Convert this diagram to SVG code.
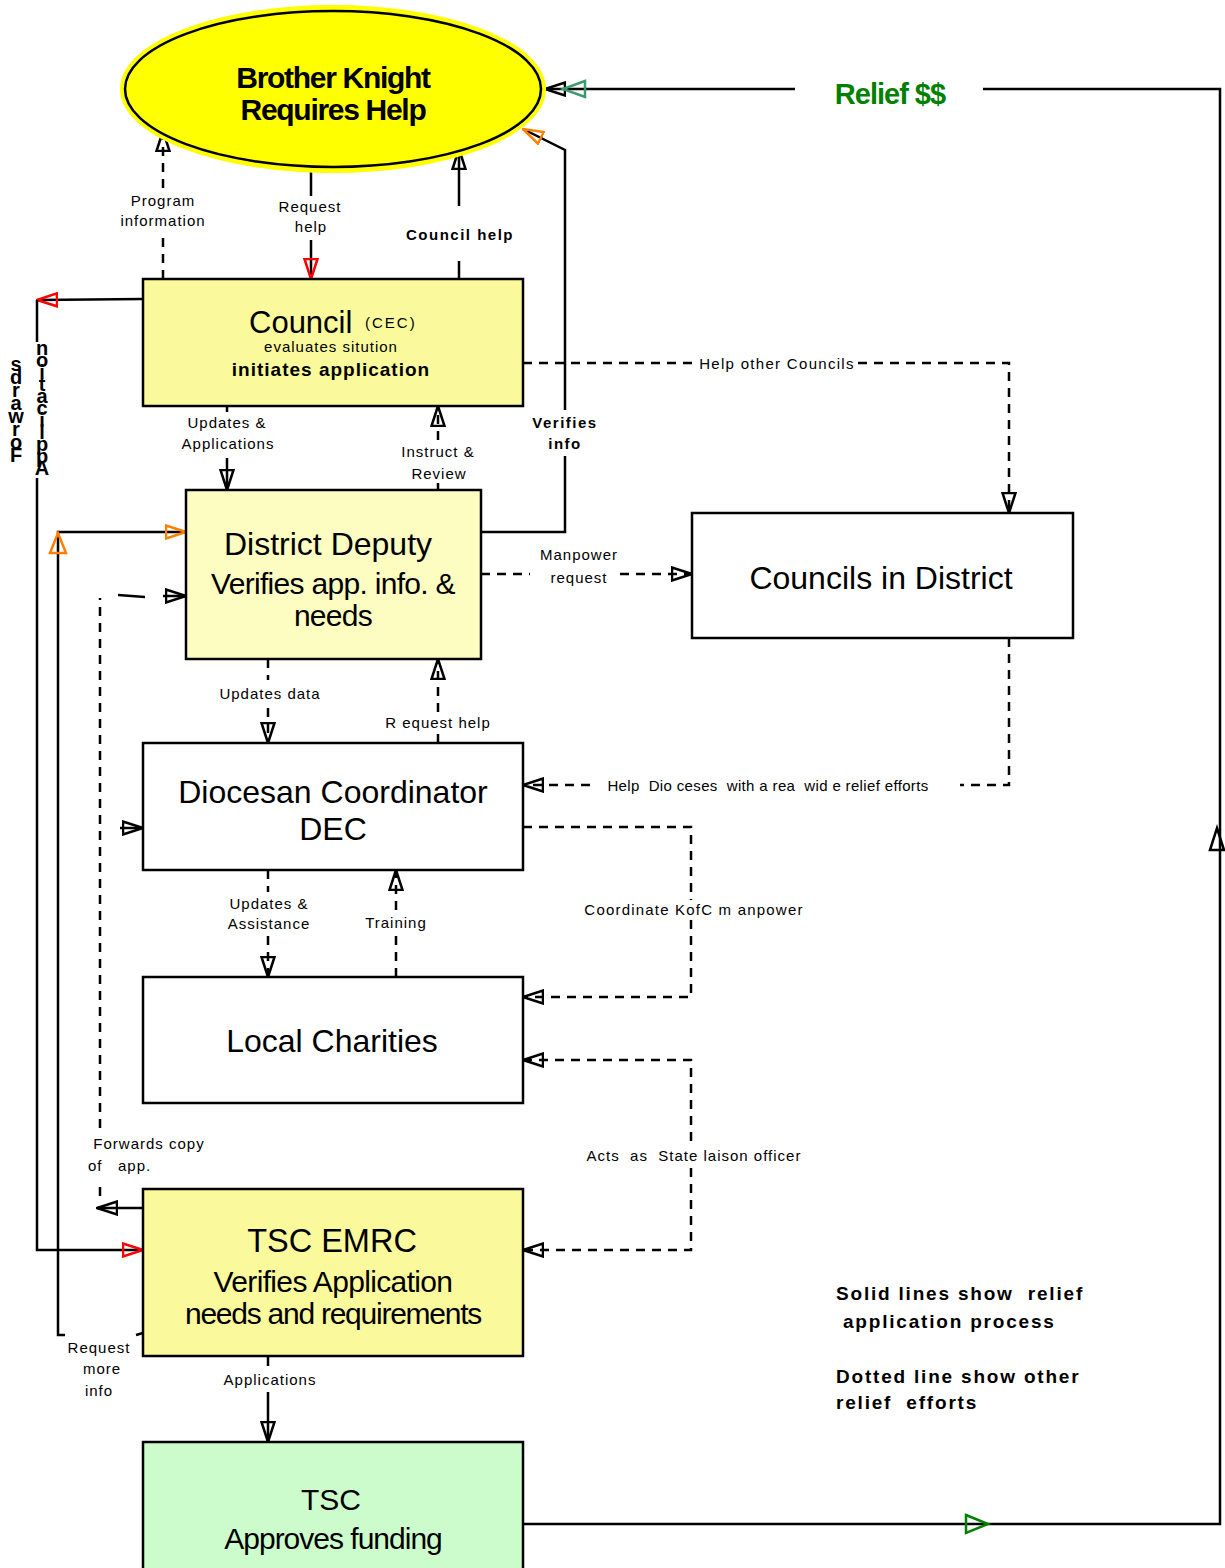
<svg xmlns="http://www.w3.org/2000/svg" width="1225" height="1568" viewBox="0 0 1225 1568">
<style>
text{font-family:"Liberation Sans",Arial,sans-serif;fill:#000;white-space:pre}
.lbl{font-size:15px;letter-spacing:1px;text-anchor:middle}
.bl{font-size:15px;font-weight:bold;letter-spacing:1.5px;text-anchor:middle}
.big{font-size:32px;text-anchor:middle}
.ln{fill:none;stroke:#000;stroke-width:2.5}
.ds{fill:none;stroke:#000;stroke-width:2.5;stroke-dasharray:9,7}
.box{stroke:#000;stroke-width:2.5}
.vt{font-size:20px;font-weight:bold;writing-mode:vertical-rl;text-orientation:upright}
.leg{font-size:19px;font-weight:bold;letter-spacing:1.8px}
</style>
<defs>
<marker id="ak" viewBox="0 0 22 16" refX="21" refY="8" markerWidth="22" markerHeight="16" markerUnits="userSpaceOnUse" orient="auto-start-reverse"><path d="M21,8 L1,1.5 L1,14.5 Z" fill="none" stroke="#000" stroke-width="2.5"/></marker>
<marker id="ar" viewBox="0 0 22 16" refX="21" refY="8" markerWidth="22" markerHeight="16" markerUnits="userSpaceOnUse" orient="auto-start-reverse"><path d="M21,8 L1,1.5 L1,14.5 Z" fill="none" stroke="#FF0000" stroke-width="2.5"/></marker>
<marker id="ao" viewBox="0 0 22 16" refX="21" refY="8" markerWidth="22" markerHeight="16" markerUnits="userSpaceOnUse" orient="auto-start-reverse"><path d="M21,8 L1,1.5 L1,14.5 Z" fill="none" stroke="#FF8000" stroke-width="2.5"/></marker>
</defs>

<g id="connectors">
<!-- Program information -->
<path class="ds" d="M163,279 V236 M163,188 V131" marker-end="url(#ak)"/>
<text class="lbl" x="163" y="206">Program</text>
<text class="lbl" x="163" y="226">information</text>
<!-- Request help -->
<path class="ln" d="M311,172 V196 M311,240 V279" marker-end="url(#ar)"/>
<text class="lbl" x="310" y="212">Request</text>
<text class="lbl" x="311" y="232">help</text>
<!-- Council help -->
<path class="ln" d="M459,279 V261 M459,206 V149" marker-end="url(#ak)"/>
<text class="bl" x="460" y="240">Council help</text>
<!-- Verifies info -->
<path class="ln" d="M481,532 H565 V456 M565,410 V150 L523,129" marker-end="url(#ao)"/>
<text class="bl" x="565" y="428">Verifies</text>
<text class="bl" x="565" y="449">info</text>
<!-- Relief $$ -->
<path class="ln" d="M523,1524 H1220 V89 H983 M795,89 H545" marker-end="url(#ak)"/>
<path d="M585,81 L563,89 L585,97 Z" fill="none" stroke="#3A9A70" stroke-width="2.5"/>
<path d="M966,1515 L988,1524 L966,1533 Z" fill="none" stroke="#008000" stroke-width="2.5"/>
<path d="M1210,850 L1217,828 L1224,850 Z" fill="none" stroke="#000" stroke-width="2.5"/>
<text x="890" y="104" text-anchor="middle" font-size="29" font-weight="bold" letter-spacing="-1" style="fill:#008000">Relief $$</text>
<!-- Council to TSC EMRC left loop (red) -->
<path class="ln" d="M143,299 L37,300" marker-end="url(#ar)"/>
<path class="ln" d="M37,300 V342 M37,478 V1250 H143" marker-end="url(#ar)"/>
<text class="vt" x="16" y="353" style="letter-spacing:-9px">sdrawroF</text>
<text class="vt" x="42" y="337" style="letter-spacing:-10px">noitacilppA</text>
<!-- Request more info (orange) -->
<path class="ln" d="M143,1333 L136,1335 M65,1335 H58 V532 H186" marker-end="url(#ao)"/>
<path d="M50,553 L58,533 L66,553 Z" fill="none" stroke="#FF8000" stroke-width="2.5"/>
<text class="lbl" x="99" y="1353">Request</text>
<text class="lbl" x="102" y="1374">more</text>
<text class="lbl" x="99" y="1396">info</text>
<!-- Forwards copy of app. -->
<path class="ln" d="M143,1208 H97" marker-end="url(#ak)"/>
<path class="ds" d="M100,1196 V1180 M100,1128 V598"/>
<path class="ln" d="M118,595 L145,597"/>
<path class="ln" d="M163,596 H186" marker-end="url(#ak)"/>
<path class="ln" d="M120,828 H143" marker-end="url(#ak)"/>
<text class="lbl" x="149" y="1149">Forwards copy</text>
<text x="88" y="1171" font-size="15" letter-spacing="1">of   app.</text>
<!-- Updates & Applications -->
<path class="ln" d="M227,406 V412 M227,458 V490" marker-end="url(#ak)"/>
<text class="lbl" x="227" y="428">Updates &amp;</text>
<text class="lbl" x="228" y="449">Applications</text>
<!-- Instruct & Review -->
<path class="ds" d="M438,490 V483 M438,440 V406" marker-end="url(#ak)"/>
<text class="lbl" x="438" y="457">Instruct &amp;</text>
<text class="lbl" x="439" y="479">Review</text>
<!-- Help other Councils -->
<path class="ds" d="M523,363 H696 M858,363 H1009 V513" marker-end="url(#ak)"/>
<text class="lbl" x="777" y="369" style="letter-spacing:1.3px">Help other Councils</text>
<!-- Manpower request -->
<path class="ds" d="M481,574 H530"/>
<path class="ds" d="M620,574 H692" marker-end="url(#ak)"/>
<text class="lbl" x="579" y="560">Manpower</text>
<text class="lbl" x="579" y="583">request</text>
<!-- Updates data -->
<path class="ds" d="M268,659 V680 M268,708 V743" marker-end="url(#ak)"/>
<text class="lbl" x="270" y="699">Updates data</text>
<!-- Request help (DEC to DD) -->
<path class="ds" d="M438,743 V734 M438,712 V659" marker-end="url(#ak)"/>
<text class="lbl" x="438" y="728">R equest help</text>
<!-- Help Dioceses -->
<path class="ds" d="M1009,638 V785 H960 M590,785 H523" marker-end="url(#ak)"/>
<text class="lbl" x="768" y="791" style="letter-spacing:0.35px">Help  Dio ceses  with a rea  wid e relief efforts</text>
<!-- Coordinate KofC manpower -->
<path class="ds" d="M523,827 H691 V900 M691,920 V997 H523" marker-end="url(#ak)"/>
<text class="lbl" x="694" y="915" style="letter-spacing:1.2px">Coordinate KofC m anpower</text>
<!-- Updates & Assistance -->
<path class="ds" d="M268,870 V892 M268,936 V977" marker-end="url(#ak)"/>
<text class="lbl" x="269" y="909">Updates &amp;</text>
<text class="lbl" x="269" y="929">Assistance</text>
<!-- Training -->
<path class="ds" d="M396,977 V935 M396,910 V870" marker-end="url(#ak)"/>
<text class="lbl" x="396" y="928">Training</text>
<!-- Acts as State laison officer -->
<path class="ds" d="M523,1060 H691 V1143 M691,1168 V1250 H523" marker-end="url(#ak)" marker-start="url(#ak)"/>
<text class="lbl" x="694" y="1161">Acts  as  State laison officer</text>
<!-- Applications -->
<path class="ln" d="M268,1356 V1366 M268,1392 V1442" marker-end="url(#ak)"/>
<text class="lbl" x="270" y="1385">Applications</text>
</g>

<g id="node-brother-knight">
<ellipse cx="333" cy="89" rx="211" ry="82" fill="#FFFF00" stroke="#FFFF00" stroke-width="4"/>
<ellipse cx="333" cy="89" rx="208" ry="78" fill="#FFFF00" stroke="#000" stroke-width="2.5"/>
<text x="333" y="88" text-anchor="middle" font-size="30" font-weight="bold" letter-spacing="-1.3">Brother Knight</text>
<text x="333" y="120" text-anchor="middle" font-size="30" font-weight="bold" letter-spacing="-1.3">Requires Help</text>
</g>

<g id="node-council">
<rect class="box" x="143" y="279" width="380" height="127" fill="#FAFA9C"/>
<text x="249" y="333" font-size="31">Council</text>
<text x="365" y="328" font-size="15" letter-spacing="2">(CEC)</text>
<text x="331" y="352" font-size="15" text-anchor="middle" letter-spacing="1">evaluates sitution</text>
<text x="331" y="376" font-size="19" font-weight="bold" text-anchor="middle" letter-spacing="1">initiates application</text>
</g>

<g id="node-district-deputy">
<rect class="box" x="186" y="490" width="295" height="169" fill="#FDFDC2"/>
<text class="big" x="328" y="555">District Deputy</text>
<text class="big" x="333" y="594" style="font-size:30px;letter-spacing:-0.7px">Verifies app. info. &amp;</text>
<text class="big" x="333" y="626" style="font-size:30px;letter-spacing:-0.7px">needs</text>
</g>

<g id="node-councils-in-district">
<rect class="box" x="692" y="513" width="381" height="125" fill="#FFFFFF"/>
<text class="big" x="881" y="589">Councils in District</text>
</g>

<g id="node-diocesan">
<rect class="box" x="143" y="743" width="380" height="127" fill="#FFFFFF"/>
<text class="big" x="333" y="803">Diocesan Coordinator</text>
<text class="big" x="333" y="840">DEC</text>
</g>

<g id="node-local-charities">
<rect class="box" x="143" y="977" width="380" height="126" fill="#FFFFFF"/>
<text class="big" x="332" y="1052">Local Charities</text>
</g>

<g id="node-tsc-emrc">
<rect class="box" x="143" y="1189" width="380" height="167" fill="#FAFA9C"/>
<text class="big" x="332" y="1252" style="font-size:32.5px">TSC EMRC</text>
<text class="big" x="333" y="1292" style="font-size:30px;letter-spacing:-0.65px">Verifies Application</text>
<text class="big" x="333" y="1324" style="font-size:30px;letter-spacing:-1.25px">needs and requirements</text>
</g>

<g id="node-tsc">
<rect class="box" x="143" y="1442" width="380" height="130" fill="#CCFCCC"/>
<text class="big" x="331" y="1510" style="font-size:30px">TSC</text>
<text class="big" x="333" y="1549" style="font-size:30px;letter-spacing:-1px">Approves funding</text>
</g>

<g id="legend">
<text class="leg" x="836" y="1300">Solid lines show  relief</text>
<text class="leg" x="843" y="1328">application process</text>
<text class="leg" x="836" y="1383">Dotted line show other</text>
<text class="leg" x="836" y="1409">relief  efforts</text>
</g>
</svg>
